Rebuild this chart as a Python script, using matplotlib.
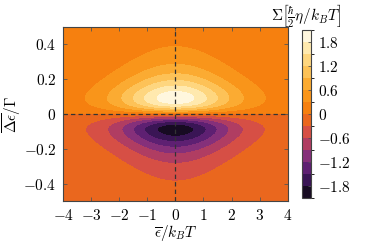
import numpy as np
import matplotlib
matplotlib.use('Agg')
import matplotlib.pyplot as plt
from matplotlib.colors import ListedColormap, BoundaryNorm
from matplotlib.ticker import FuncFormatter

plt.rcParams['font.family'] = 'serif'
plt.rcParams['font.serif'] = ['cmr10']
plt.rcParams['mathtext.fontset'] = 'cm'
plt.rcParams['axes.unicode_minus'] = True
plt.rcParams['font.size'] = 11

# Параметры поля
peak_value = 2.0        # максимум |Sigma|
peak_offset = 0.09      # положение максимума по оси Delta eps / Gamma
x_range = [-4, 4]
y_range = [-0.5, 0.5]
levels = np.arange(-2.1, 2.11, 0.3)
x_ticks = [-4, -3, -2, -1, 0, 1, 2, 3, 4]
y_ticks = [-0.4, -0.2, 0, 0.2, 0.4]
cbar_ticks = [-1.8, -1.2, -0.6, 0, 0.6, 1.2, 1.8]
# цвета полос (снизу вверх)
band_colors = ['#170b22', '#3a1555', '#5e2072', '#85307a', '#b03d62',
               '#d64f45', '#ea671e', '#f6800f', '#f9951a', '#fbab32',
               '#fdc257', '#fed67f', '#ffe9ae', '#fff7de']

# Сетка
x = np.linspace(x_range[0], x_range[1], 400)
y = np.linspace(y_range[0], y_range[1], 400)
X, Y = np.meshgrid(x, y)

# Профиль по eps: производная функции Ферми, по Delta eps: нечётный пик
a2 = 3 * peak_offset**2
g = 1 / np.cosh(X / 2)**2
h = Y / (a2 + Y**2)**2
h_max = peak_offset / (a2 + peak_offset**2)**2
Z = peak_value * g * h / h_max

cmap = ListedColormap(band_colors)
norm = BoundaryNorm(levels, cmap.N)

fig = plt.figure(figsize=(3.74, 2.43), dpi=100)
ax = fig.add_axes([0.169, 0.173, 0.600, 0.717])
cax = fig.add_axes([0.807, 0.185, 0.025, 0.692])

cs = ax.contourf(X, Y, Z, levels=levels, cmap=cmap, norm=norm)
ax.axhline(0, color='#333333', lw=0.9, dashes=(3.5, 2.5))
ax.axvline(0, color='#333333', lw=0.9, dashes=(3.5, 2.5))

fmt = FuncFormatter(lambda v, p: '$%g$' % round(v, 2))
ax.set_xlim(x_range)
ax.set_ylim(y_range)
ax.set_xticks(x_ticks)
ax.set_yticks(y_ticks)
ax.xaxis.set_major_formatter(fmt)
ax.yaxis.set_major_formatter(fmt)
ax.tick_params(direction='in', top=True, right=True, length=3, width=0.6,
               color='#555555', pad=5)
for s in ax.spines.values():
    s.set_color('#444444')
    s.set_linewidth(0.8)
ax.set_xlabel(r'$\overline{\epsilon}/k_BT$', labelpad=0)
ax.set_ylabel(r'$\overline{\Delta\epsilon}/\Gamma$', labelpad=0)

cb = fig.colorbar(cs, cax=cax, ticks=cbar_ticks)
cb.ax.yaxis.set_major_formatter(fmt)
cb.ax.tick_params(direction='in', length=2, width=0.6, color='#555555', pad=5)
cb.outline.set_edgecolor('#444444')
cb.outline.set_linewidth(0.8)
cb.ax.set_title(r'$\Sigma\left[\frac{\hbar}{2}\eta/k_BT\right]$', fontsize=11, pad=4)

plt.savefig('out.png', dpi=100)
